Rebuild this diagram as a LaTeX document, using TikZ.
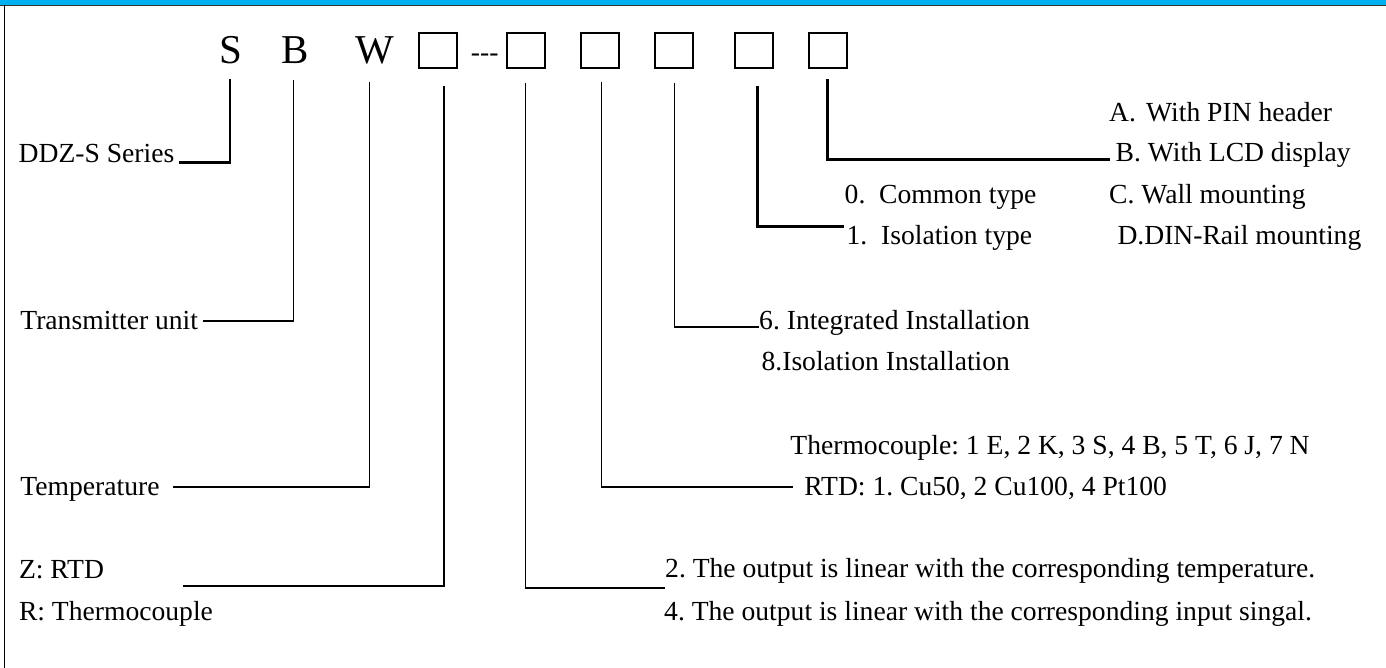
\documentclass[tikz,border=0pt]{standalone}
\usepackage{fontspec}
\setmainfont{Liberation Serif}
\definecolor{barblue}{HTML}{00B0F0}
\frenchspacing
\begin{document}
\begin{tikzpicture}[x=1pt,y=-1pt,
  lbl/.style={inner sep=0pt, anchor=base west, font=\fontsize{27.6}{33}\selectfont},
  big/.style={inner sep=0pt, anchor=base, font=\fontsize{41}{48}\selectfont},
  codebox/.style={draw, line width=2pt, minimum width=37.5pt, minimum height=35.5pt, inner sep=0pt},
  conn/.style={line width=1.8pt},
  connb/.style={line width=2.4pt}]
\useasboundingbox (0,0) rectangle (1386,668);
% frame
\fill[barblue] (0,0) rectangle (1386,5);
\draw[line width=1.3pt, black!80] (0,5.6) -- (1386,5.6);
\draw[line width=1pt] (4,5) -- (4,668);
% code row
\node[big] (S) at (231.2,63.3) {S};
\node[big] (B) at (295,63.3) {B};
\node[big] (W) at (375,63.3) {W};
\node[codebox] (b1) at (438,50.4) {};
\node[lbl] (dash) at (470.7,62) {-{}-{}-};
\node[codebox] (b2) at (525.9,50.4) {};
\node[codebox] (b3) at (600,50.4) {};
\node[codebox] (b4) at (674,50.4) {};
\node[codebox] (b5) at (754,50.4) {};
\node[codebox] (b6) at (828,50.4) {};
% labels
\node[lbl] (ddz) at (18.5,162.7) {DDZ-S Series};
\node[lbl] (tu) at (20.2,329.3) {Transmitter unit};
\node[lbl] (temp) at (20.2,495) {Temperature};
\node[lbl] (zr) at (18.8,578) {Z: RTD};
\node[lbl] (rt) at (18.8,620) {R: Thermocouple};
\node[lbl] (oa) at (1109,121.7) {A.\hspace{0.37em}With PIN header};
\node[lbl] (ob) at (1115.5,161.7) {B. With LCD display};
\node[lbl] (oc) at (1109,204) {C. Wall mounting};
\node[lbl] (od) at (1117.3,245) {D.DIN-Rail mounting};
\node[lbl] (i0) at (844.5,204) {0.\ \ Common type};
\node[lbl] (i1) at (846.4,245) {1.\ \ Isolation type};
\node[lbl] (n6) at (759,329) {6. Integrated Installation};
\node[lbl] (n8) at (761.4,370.5) {8.Isolation Installation};
\node[lbl] (tc) at (790.2,454) {Thermocouple: 1 E, 2 K, 3 S, 4 B, 5 T, 6 J, 7 N};
\node[lbl] (rtd) at (804.2,495) {RTD: 1. Cu50, 2 Cu100, 4 Pt100};
\node[lbl] (o2) at (665,577) {2. The output is linear with the corresponding temperature.};
\node[lbl] (o4) at (664,620) {4. The output is linear with the corresponding input singal.};
% connector ends
\coordinate (sS) at (230,79);    \coordinate (eS) at (179,162.7);
\coordinate (sB) at (293.5,80);  \coordinate (eB) at (203,321);
\coordinate (sW) at (369.5,82);  \coordinate (eW) at (173.3,487.3);
\coordinate (s1) at (444,86);    \coordinate (e1) at (183.3,586);
\coordinate (s2) at (525.5,83);  \coordinate (e2) at (665,588);
\coordinate (s3) at (601.5,82);  \coordinate (e3) at (793,487.3);
\coordinate (s4) at (674.5,83);  \coordinate (e4) at (759,327);
\coordinate (s5) at (757.3,86);  \coordinate (e5) at (844,226.7);
\coordinate (s6) at (827.3,79);  \coordinate (e6) at (1110,159.7);
\draw[connb] (sS) |- (eS);
\draw[conn] (sB) |- (eB);
\draw[conn] (sW) |- (eW);
\draw[conn] (s1) |- (e1);
\draw[conn] (s2) |- (e2);
\draw[conn] (s3) |- (e3);
\draw[conn] (s4) |- (e4);
\draw[connb] (s5) |- (e5);
\draw[connb] (s6) |- (e6);
\end{tikzpicture}
\end{document}
